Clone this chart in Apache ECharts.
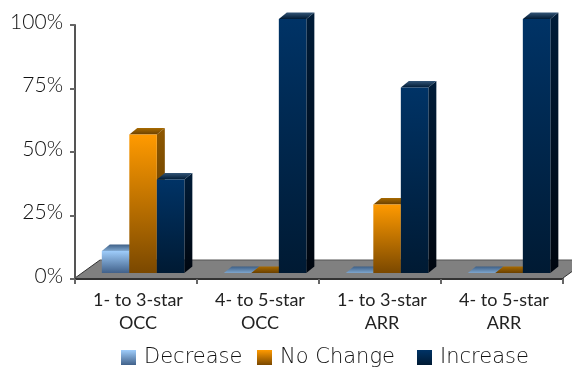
<!DOCTYPE html>
<html>
<head>
<meta charset="utf-8">
<style>html,body{margin:0;padding:0;background:#fff}#c{width:572px;height:367px}</style>
<script src="https://cdn.jsdelivr.net/npm/echarts@6/dist/echarts.min.js"></script>
</head>
<body>
<div id="c"></div>
<script>
const categories = ['1- to 3-star\nOCC', '4- to 5-star\nOCC', '1- to 3-star\nARR', '4- to 5-star\nARR'];
const decrease = [8.7, 0, 0, 0];
const noChange = [54.5, 0, 27, 0];
const increase = [36.8, 100, 73, 100];
const yTicks = [0, 25, 50, 75, 100];
const legendNames = ['Decrease', 'No Change', 'Increase'];
const legendLefts = [121, 257, 417];

const FONT = 'Lato, "Liberation Sans", sans-serif';
const LEGEND_FONT = '"DejaVu Sans", sans-serif';
const DEPTH_X = 8, DEPTH_Y = 6.5, BASE_LIFT = 6;
const FLOOR_X = 25, FLOOR_Y = 18;

function grad(top, bottom) {
  return { type: 'linear', x: 0, y: 0, x2: 0, y2: 1, colorStops: [{ offset: 0, color: top }, { offset: 1, color: bottom }] };
}

const palettes = {
  Decrease: { front: grad('#9fcdfb', '#41618a'), top: grad('#3d5f86', '#7ea5cc'), side: grad('#5d86b0', '#2e4766') },
  'No Change': { front: grad('#ff9a00', '#7a4800'), top: grad('#a86a00', '#6a4000'), side: grad('#8f5800', '#4f3000') },
  Increase: { front: grad('#003366', '#001a33'), top: grad('#335577', '#001a33'), side: grad('#001c38', '#00060f') }
};

// Three-dimensional column: side and top faces, then the front face.
function columnRenderer(name, slot) {
  const pal = palettes[name];
  return function (params, api) {
    const band = api.size([1, 0])[0];
    const w = band * 0.2255;
    const cx = api.coord([api.value(0), 0])[0];
    const x0 = cx - band / 2 + band * 0.2255 - 0.7 + slot * w;
    const x1 = x0 + w;
    const yBase = api.coord([0, 0])[1] - BASE_LIFT;
    const yTop = api.coord([0, api.value(1)])[1] - BASE_LIFT;
    const children = [];
    if (yBase - yTop > 0.5) {
      children.push({ type: 'polygon', shape: { points: [[x1, yTop], [x1 + DEPTH_X, yTop - DEPTH_Y], [x1 + DEPTH_X, yBase - DEPTH_Y], [x1, yBase]] }, style: { fill: pal.side } });
    }
    children.push({ type: 'polygon', shape: { points: [[x0, yTop], [x0 + DEPTH_X, yTop - DEPTH_Y], [x1 + DEPTH_X, yTop - DEPTH_Y], [x1, yTop]] }, style: { fill: pal.top } });
    if (yBase - yTop > 0.5) {
      children.push({ type: 'rect', shape: { x: x0, y: yTop, width: w, height: yBase - yTop }, style: { fill: pal.front } });
    }
    return { type: 'group', children };
  };
}

function floorRenderer(params) {
  const g = params.coordSys;
  const bottom = g.y + g.height - 1;
  const left = g.x, right = g.x + g.width;
  return {
    type: 'group',
    children: [
      { type: 'polygon', shape: { points: [[left, bottom], [left + FLOOR_X, bottom - FLOOR_Y], [right + FLOOR_X, bottom - FLOOR_Y], [right, bottom]] }, style: { fill: '#808080' } },
      { type: 'line', shape: { x1: left + FLOOR_X, y1: bottom - FLOOR_Y, x2: right + FLOOR_X, y2: bottom - FLOOR_Y }, style: { stroke: '#555', lineWidth: 1 } },
      { type: 'line', shape: { x1: left, y1: bottom, x2: left + FLOOR_X, y2: bottom - FLOOR_Y }, style: { stroke: '#333', lineWidth: 1 } },
      { type: 'line', shape: { x1: right, y1: bottom, x2: right + FLOOR_X, y2: bottom - FLOOR_Y }, style: { stroke: '#333', lineWidth: 1 } }
    ]
  };
}

function columnSeries(name, values, slot) {
  return {
    name,
    type: 'custom',
    clip: false,
    z: 3 + slot,
    renderItem: columnRenderer(name, slot),
    itemStyle: { color: palettes[name].front },
    encode: { x: 0, y: 1 },
    data: values.map((v, i) => [i, v])
  };
}

const chart = echarts.init(document.getElementById('c'), null, { renderer: 'canvas' });
chart.setOption({
  animation: false,
  backgroundColor: '#fff',
  grid: { left: 75, right: 9, top: 25, bottom: 88, containLabel: false },
  legend: legendNames.map((n, i) => ({
    left: legendLefts[i],
    top: 347,
    itemWidth: 15,
    itemHeight: 15,
    padding: 0,
    selectedMode: false,
    textStyle: { fontFamily: LEGEND_FONT, fontWeight: 200, fontSize: 21, color: '#111', padding: [2, 0, 0, 3] },
    data: [{ name: n, icon: 'rect', itemStyle: { color: palettes[n].front } }]
  })),
  xAxis: {
    type: 'category',
    data: categories,
    z: 6,
    axisLine: { lineStyle: { color: '#333', width: 2 } },
    axisTick: { show: true, length: 5, alignWithLabel: false, lineStyle: { color: '#666', width: 2 } },
    axisLabel: { fontFamily: FONT, fontSize: 18, color: '#222', lineHeight: 23, margin: 10, interval: 0, padding: [0, 0, 0, 4] }
  },
  yAxis: {
    type: 'value',
    min: yTicks[0],
    max: yTicks[yTicks.length - 1],
    interval: 25,
    z: 6,
    splitLine: { show: false },
    axisLine: { show: true, lineStyle: { color: '#555', width: 2 } },
    axisTick: { show: true, length: 5, lineStyle: { color: '#666', width: 2 } },
    axisLabel: { formatter: '{value}%', fontFamily: FONT, fontWeight: 300, fontSize: 21, color: '#111', margin: 12, verticalAlign: 'bottom', lineHeight: 6 }
  },
  series: [
    { name: 'floor', type: 'custom', clip: false, silent: true, z: 2, renderItem: floorRenderer, data: [[0, 0]], encode: { x: 0, y: 1 } },
    columnSeries('Decrease', decrease, 0),
    columnSeries('No Change', noChange, 1),
    columnSeries('Increase', increase, 2)
  ]
});
</script>
</body>
</html>
